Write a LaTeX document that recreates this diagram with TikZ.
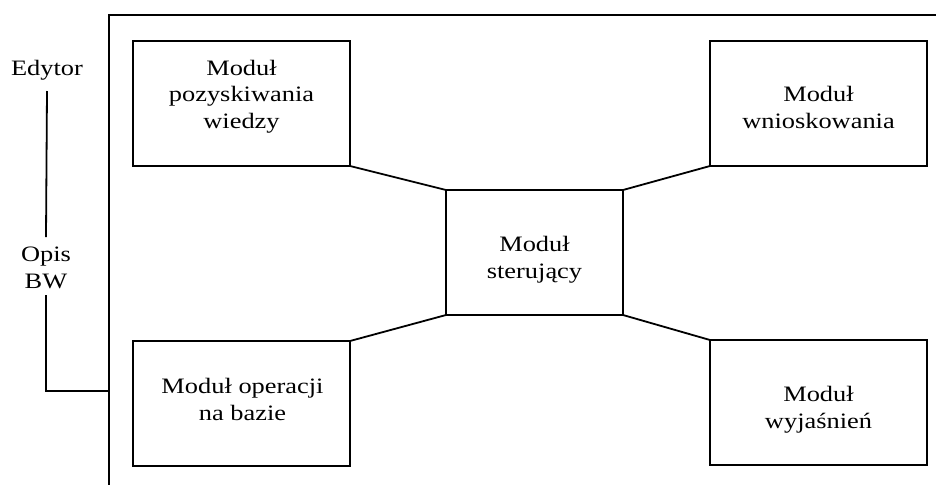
\documentclass[tikz,border=0pt]{standalone}
\usepackage{fontspec}
\setmainfont[FakeStretch=1.2]{Liberation Serif}
\newcommand{\fsz}{\fontsize{22}{26.5}\selectfont}
\begin{document}
\begin{tikzpicture}[x=1pt,y=-1pt,line width=1.8pt,
  box/.style={draw, rectangle, inner sep=0pt, outer sep=0pt, minimum width=217pt, minimum height=125pt},
  txt/.style={align=center, inner sep=0pt, outer sep=0pt, font=\fsz, anchor=base}]
\useasboundingbox (0,0) rectangle (936,485);
% frame
\coordinate (ftr) at (936,15);
\coordinate (ftl) at (109,15);
\coordinate (fbl) at (109,485);
\coordinate (fj) at (109,391);
\draw (ftr) -- (ftl) -- (fbl);
% boxes
\node[box] (acq) at (241.5,103.5) {};
\node[box] (inf) at (818.5,103.5) {};
\node[box] (ops) at (241.5,403.5) {};
\node[box] (exp) at (818.5,402.5) {};
\node[box, minimum width=177pt] (ctl) at (534.5,252.5) {};
% texts
\node[txt] (tacq) at (241.5,128) {Moduł\\pozyskiwania\\wiedzy};
\node[txt] (tinf) at (818.5,128) {Moduł\\wnioskowania};
\node[txt] (tctl) at (534.5,278) {Moduł\\sterujący};
\node[txt] (tops) at (242.5,420) {Moduł operacji\\na bazie};
\node[txt] (texp) at (818.5,428) {Moduł\\wyjaśnień};
\node[txt] (edytor) at (47,75) {Edytor};
\node[txt] (opis) at (46,288) {Opis\\BW};
% connectors
\draw (acq.south east) -- (ctl.north west);
\draw (ops.north east) -- (ctl.south west);
\draw (inf.south west) -- (ctl.north east);
\draw (exp.north west) -- (ctl.south east);
\draw ([yshift=-16pt]edytor.base) -- ([yshift=51pt]opis.base);
\draw ([yshift=-7pt]opis.base) |- (fj);
\end{tikzpicture}
\end{document}
